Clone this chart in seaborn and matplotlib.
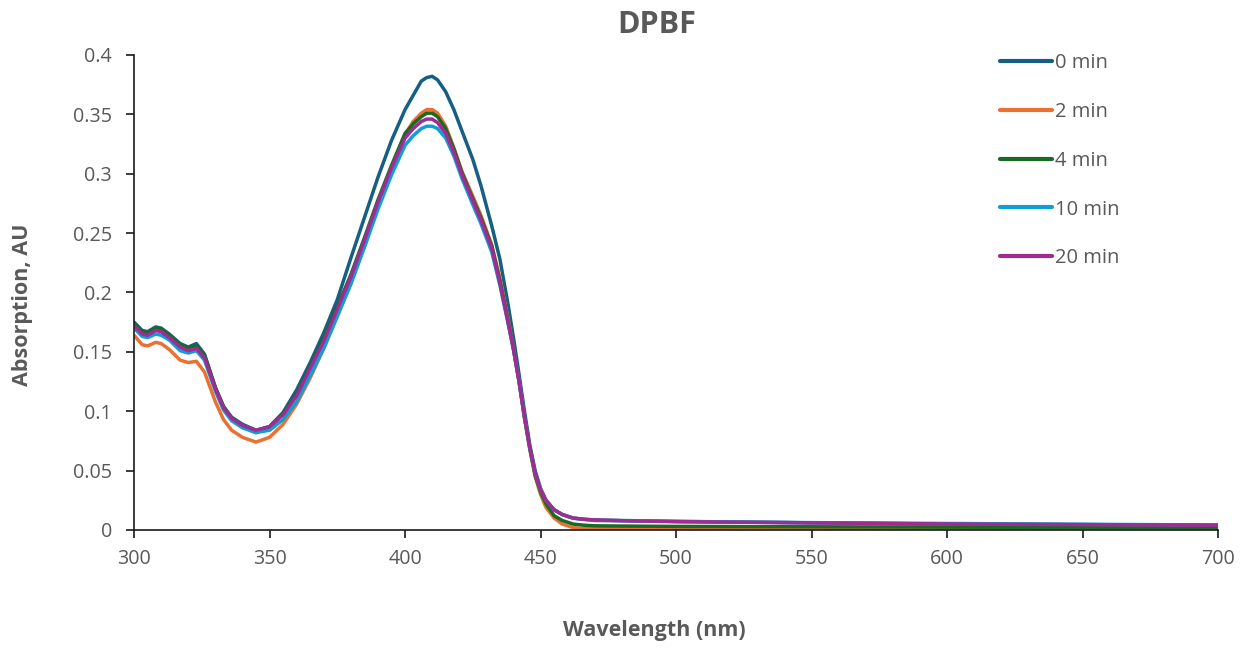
import pandas as pd
import matplotlib
matplotlib.use("Agg")
import matplotlib.pyplot as plt
from matplotlib.ticker import FuncFormatter, MultipleLocator
import seaborn as sns

# Wavelength grid (nm)
wavelength = [300, 303, 305, 308, 310, 313, 317, 320, 323, 326, 330, 333, 336, 340, 345,
              350, 355, 360, 365, 370, 375, 380, 385, 390, 395, 400, 403, 406, 408, 410,
              412, 415, 418, 421, 425, 428, 432, 435, 438, 440, 442, 444, 446, 448, 450,
              452, 455, 458, 462, 466, 470, 480, 500, 550, 600, 650, 700]

abs_0min = [0.175, 0.168, 0.167, 0.171, 0.170, 0.165, 0.157, 0.154, 0.157, 0.148, 0.120, 0.104, 0.095, 0.089, 0.084,
            0.087, 0.099, 0.118, 0.141, 0.166, 0.194, 0.229, 0.263, 0.297, 0.328, 0.354, 0.366, 0.378, 0.381, 0.382,
            0.379, 0.369, 0.354, 0.336, 0.312, 0.290, 0.256, 0.228, 0.190, 0.162, 0.132, 0.101, 0.072, 0.050, 0.035,
            0.025, 0.017, 0.013, 0.010, 0.009, 0.008, 0.0078, 0.0072, 0.006, 0.005, 0.0045, 0.004]

abs_2min = [0.164, 0.156, 0.155, 0.158, 0.157, 0.152, 0.143, 0.141, 0.142, 0.133, 0.108, 0.093, 0.084, 0.078, 0.074,
            0.078, 0.089, 0.106, 0.128, 0.153, 0.180, 0.208, 0.239, 0.272, 0.304, 0.333, 0.344, 0.351, 0.354, 0.354,
            0.351, 0.340, 0.322, 0.302, 0.281, 0.265, 0.240, 0.212, 0.178, 0.153, 0.126, 0.095, 0.068, 0.045, 0.030,
            0.019, 0.010, 0.005, 0.002, 0.0012, 0.001, 0.001, 0.001, 0.0009, 0.0008, 0.0008, 0.0007]

abs_4min = [0.174, 0.167, 0.166, 0.170, 0.169, 0.164, 0.156, 0.153, 0.155, 0.147, 0.120, 0.104, 0.094, 0.087, 0.082,
            0.087, 0.098, 0.114, 0.137, 0.161, 0.188, 0.215, 0.246, 0.278, 0.307, 0.334, 0.342, 0.348, 0.351, 0.351,
            0.348, 0.338, 0.321, 0.301, 0.279, 0.263, 0.239, 0.210, 0.176, 0.153, 0.126, 0.096, 0.069, 0.046, 0.032,
            0.022, 0.012, 0.008, 0.005, 0.004, 0.0035, 0.0033, 0.003, 0.0027, 0.0024, 0.0022, 0.002]

abs_10min = [0.170, 0.163, 0.162, 0.165, 0.164, 0.160, 0.151, 0.149, 0.151, 0.143, 0.117, 0.101, 0.092, 0.086, 0.082,
             0.084, 0.093, 0.108, 0.130, 0.153, 0.180, 0.207, 0.238, 0.270, 0.299, 0.324, 0.332, 0.338, 0.340, 0.340,
             0.338, 0.330, 0.315, 0.296, 0.274, 0.258, 0.234, 0.206, 0.174, 0.152, 0.126, 0.096, 0.070, 0.048, 0.034,
             0.025, 0.017, 0.013, 0.010, 0.009, 0.0085, 0.008, 0.0072, 0.0062, 0.0055, 0.0048, 0.0042]

abs_20min = [0.172, 0.165, 0.164, 0.168, 0.167, 0.162, 0.154, 0.151, 0.153, 0.145, 0.119, 0.103, 0.094, 0.088, 0.084,
             0.087, 0.097, 0.113, 0.136, 0.159, 0.186, 0.213, 0.244, 0.276, 0.305, 0.330, 0.338, 0.344, 0.346, 0.346,
             0.343, 0.334, 0.318, 0.299, 0.277, 0.261, 0.237, 0.208, 0.175, 0.152, 0.126, 0.096, 0.070, 0.048, 0.034,
             0.025, 0.017, 0.013, 0.010, 0.009, 0.0085, 0.0078, 0.007, 0.006, 0.005, 0.0045, 0.004]

series_names = ['0 min', '2 min', '4 min', '10 min', '20 min']
series_colors = ['#156082', '#E97132', '#196B24', '#0F9ED5', '#A02B93']

# long format table for seaborn
frames = []
for name, vals in zip(series_names, [abs_0min, abs_2min, abs_4min, abs_10min, abs_20min]):
    frames.append(pd.DataFrame({'Wavelength': wavelength, 'Absorption': vals, 'Time': name}))
df = pd.concat(frames, ignore_index=True)

sns.set_style("white")
plt.rcParams['font.family'] = ['Open Sans', 'DejaVu Sans']

gray = '#595959'
fig = plt.figure(figsize=(12.47, 6.49), dpi=100)
ax = fig.add_axes([0.1075, 0.1834, 0.8693, 0.7319])

sns.lineplot(data=df, x='Wavelength', y='Absorption', hue='Time', hue_order=series_names,
             palette=series_colors, linewidth=2.5, sort=False, estimator=None, ax=ax)

ax.set_xlim(300, 700)
ax.set_ylim(0, 0.4)
ax.xaxis.set_major_locator(MultipleLocator(50))
ax.yaxis.set_major_locator(MultipleLocator(0.05))
ax.yaxis.set_major_formatter(FuncFormatter(lambda v, p: f'{v:g}'))
ax.set_xlabel('')
ax.set_ylabel('')

for side in ['top', 'right']:
    ax.spines[side].set_visible(False)
for side in ['left', 'bottom']:
    ax.spines[side].set_color('#1a1a1a')
    ax.spines[side].set_linewidth(1.2)
ax.tick_params(axis='both', which='major', direction='out', length=6, width=1.2,
               color='#1a1a1a', labelcolor=gray, labelsize=14.2)
ax.tick_params(axis='y', pad=10)
ax.tick_params(axis='x', pad=8)
ax.tick_params(left=True, bottom=True)

leg = ax.legend(loc='upper left', bbox_to_anchor=(0.782, 1.042), frameon=False,
                fontsize=14.5, handlelength=2.6, handletextpad=0.12, labelspacing=1.43)
for t in leg.get_texts():
    t.set_color(gray)
for line in leg.get_lines():
    line.set_linewidth(3)

fig.text(0.527, 0.962, 'DPBF', ha='center', va='center', fontsize=22, fontweight='bold', color=gray)
fig.text(0.525, 0.028, 'Wavelength (nm)', ha='center', va='center', fontsize=15.5, fontweight='bold', color=gray)
fig.text(0.018, 0.53, 'Absorption, AU', ha='center', va='center', rotation=90,
         fontsize=15.5, fontweight='bold', color=gray)

fig.savefig('out.png', dpi=100)
